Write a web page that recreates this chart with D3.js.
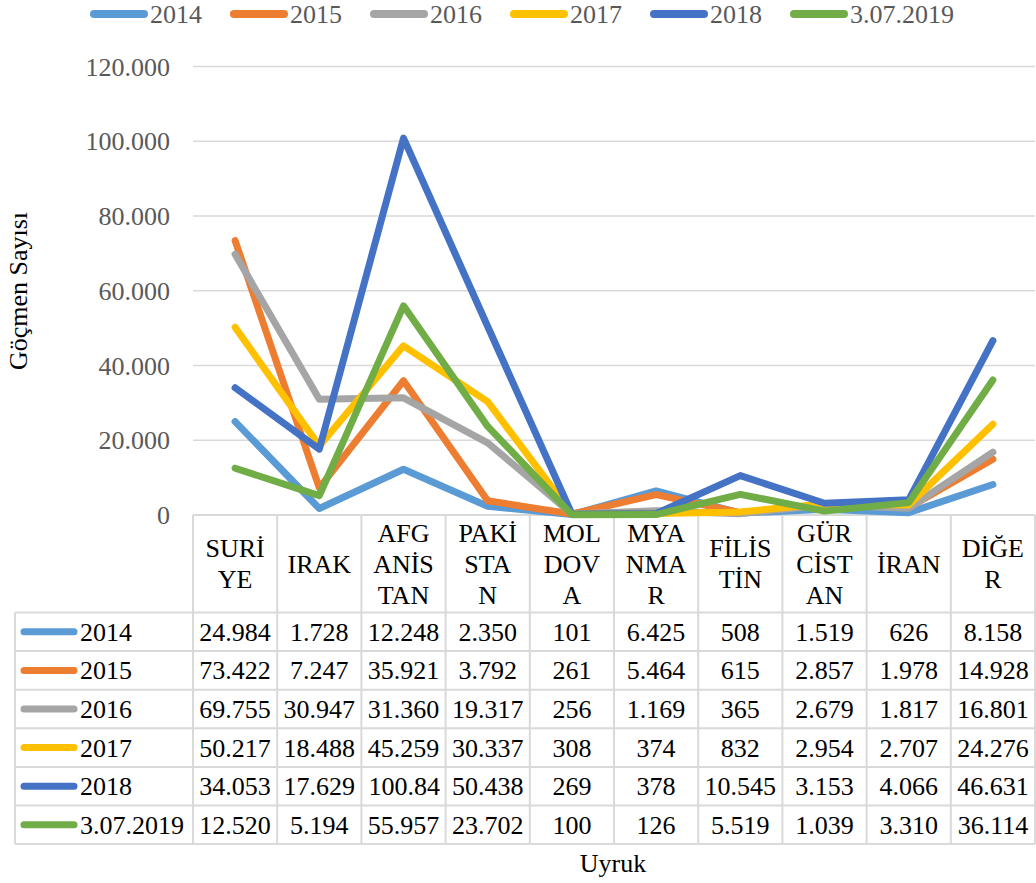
<!DOCTYPE html>
<html><head><meta charset="utf-8">
<script src="https://cdn.jsdelivr.net/npm/d3@7"></script>
<style>body{margin:0;background:#fff}svg{display:block}text{font-family:"Liberation Serif","Times New Roman",serif}</style>
</head><body><svg id="c" width="1036" height="883"></svg>
<script>
const categories = ["SURİYE","IRAK","AFGANİSTAN","PAKİSTAN","MOLDOVA","MYANMAR","FİLİSTİN","GÜRCİSTAN","İRAN","DİĞER"];
const categoryLines = [["SURİ","YE"],["IRAK"],["AFG","ANİS","TAN"],["PAKİ","STA","N"],["MOL","DOV","A"],["MYA","NMA","R"],["FİLİS","TİN"],["GÜR","CİST","AN"],["İRAN"],["DİĞE","R"]];
const seriesNames = ["2014","2015","2016","2017","2018","3.07.2019"];
const colors = ["#5B9BD5","#ED7D31","#A5A5A5","#FFC000","#4472C4","#70AD47"];
const v2014 = [24984,1728,12248,2350,101,6425,508,1519,626,8158];
const v2015 = [73422,7247,35921,3792,261,5464,615,2857,1978,14928];
const v2016 = [69755,30947,31360,19317,256,1169,365,2679,1817,16801];
const v2017 = [50217,18488,45259,30337,308,374,832,2954,2707,24276];
const v2018 = [34053,17629,100841,50438,269,378,10545,3153,4066,46631];
const v2019 = [12520,5194,55957,23702,100,126,5519,1039,3310,36114];
const yTicks = [0,20000,40000,60000,80000,100000,120000];
const series = [v2014,v2015,v2016,v2017,v2018,v2019];

const loc = d3.formatLocale({decimal:",",thousands:".",grouping:[3],currency:["",""]});
const fmt = loc.format(",d");

const svg = d3.select("#c");
const left = 193, right = 1035;
const x = d3.scaleBand().domain(categories).range([left,right]).padding(0);
const y = d3.scaleLinear().domain([0,120000]).range([515,66.5]);
const font = 26;

// gridlines
svg.append("g").selectAll("line").data(yTicks).join("line")
  .attr("x1",left).attr("x2",right).attr("y1",d=>y(d)).attr("y2",d=>y(d))
  .attr("stroke","#D9D9D9").attr("stroke-width",1.3);

// y axis labels
svg.append("g").selectAll("text").data(yTicks).join("text")
  .attr("x",170).attr("y",d=>y(d)+9).attr("text-anchor","end")
  .attr("font-size",font).attr("fill","#595959").text(d=>fmt(d));

// y title
svg.append("text").attr("transform","translate(27,291) rotate(-90)")
  .attr("text-anchor","middle").attr("font-size",font).attr("fill","#000").text("Göçmen Sayısı");

// table
const tg = svg.append("g");
const headTop = 515, headBot = 612.5, rowH = 38.6, tableLeft = 15;
const rowTop = i => headBot + i*rowH;
const tableBot = rowTop(series.length);
const gridC = "#D9D9D9";
tg.append("line").attr("x1",left).attr("x2",right).attr("y1",headTop).attr("y2",headTop).attr("stroke",gridC).attr("stroke-width",2);
d3.range(series.length+1).forEach(i=>{
  tg.append("line").attr("x1",tableLeft).attr("x2",right).attr("y1",rowTop(i)).attr("y2",rowTop(i)).attr("stroke",gridC).attr("stroke-width",2);
});
tg.append("line").attr("x1",tableLeft).attr("x2",tableLeft).attr("y1",headBot).attr("y2",tableBot).attr("stroke",gridC).attr("stroke-width",2);
categories.forEach((c,i)=>{
  const xx = x(c);
  tg.append("line").attr("x1",xx).attr("x2",xx).attr("y1",headTop).attr("y2",tableBot).attr("stroke",gridC).attr("stroke-width",2);
});
tg.append("line").attr("x1",right).attr("x2",right).attr("y1",headTop).attr("y2",tableBot).attr("stroke",gridC).attr("stroke-width",2);

// header labels
const headMid = (headTop+headBot)/2, lh = 31;
categories.forEach((c,i)=>{
  const lines = categoryLines[i];
  const cx = x(c)+x.bandwidth()/2;
  lines.forEach((t,j)=>{
    tg.append("text").attr("x",cx).attr("y",headMid + (j-(lines.length-1)/2)*lh + 9)
      .attr("text-anchor","middle").attr("font-size",font).attr("fill","#000").text(t);
  });
});

series.forEach((vals,si)=>{
  const cy = rowTop(si)+rowH/2;
  tg.append("line").attr("x1",24).attr("x2",74).attr("y1",cy).attr("y2",cy)
    .attr("stroke",colors[si]).attr("stroke-width",7).attr("stroke-linecap","round");
  tg.append("text").attr("x",80).attr("y",cy+9).attr("font-size",font).attr("fill","#000").text(seriesNames[si]);
  vals.forEach((v,ci)=>{
    const cx0 = x(categories[ci]), w = x.bandwidth();
    let s = fmt(v);
    const t = tg.append("text").attr("x",cx0+w/2).attr("y",cy+9).attr("text-anchor","middle")
      .attr("font-size",font).attr("fill","#000").text(s);
    if (t.node().getComputedTextLength() > w-4) {
      t.attr("text-anchor","start").attr("x",cx0+7);
      while (s.length > 1 && t.node().getComputedTextLength() > w-8) { s = s.slice(0,-1); t.text(s); }
    }
  });
});

// lines
const line = d3.line().x((d,i)=>x(categories[i])+x.bandwidth()/2).y(d=>y(d));
svg.append("g").selectAll("path").data(series).join("path")
  .attr("d",line).attr("fill","none").attr("stroke",(d,i)=>colors[i])
  .attr("stroke-width",7).attr("stroke-linejoin","round").attr("stroke-linecap","round");

// legend
const lg = svg.append("g");
seriesNames.forEach((n,i)=>{
  const x0 = 90 + 140*i;
  lg.append("line").attr("x1",x0+4).attr("x2",x0+54).attr("y1",14).attr("y2",14)
    .attr("stroke",colors[i]).attr("stroke-width",8).attr("stroke-linecap","round");
  lg.append("text").attr("x",x0+60).attr("y",23).attr("font-size",font).attr("fill","#595959").text(n);
});

// x title
svg.append("text").attr("x",613).attr("y",872).attr("text-anchor","middle").attr("font-size",font).attr("fill","#000").text("Uyruk");
</script></body></html>
